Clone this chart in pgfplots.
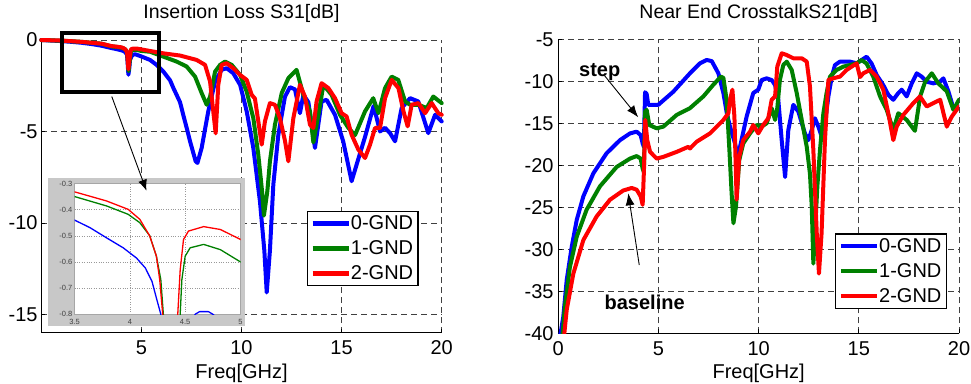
\documentclass[border=0pt]{standalone}
\usepackage{pgfplots}
\pgfplotsset{compat=1.18}
\usepackage{pgfplotstable}
\usepackage{fontspec}
\setmainfont{Liberation Sans}
\usetikzlibrary{arrows.meta}

\definecolor{mblue}{RGB}{0,0,255}
\definecolor{mgreen}{RGB}{0,128,0}
\definecolor{mred}{RGB}{255,0,0}
\definecolor{insetgray}{RGB}{200,200,200}

% ---------- Insertion loss S31 [dB] ----------
\pgfplotstableread{
x y
0 0
0.5 -0.03
1 -0.06
1.5 -0.1
2 -0.15
2.5 -0.22
3 -0.31
3.5 -0.44
3.64 -0.469
3.79 -0.508
3.94 -0.546
4.06 -0.585
4.14 -0.623
4.2 -0.674
4.24 -0.738
4.28 -0.8
4.31 -1.2
4.35 -1.9
4.39 -1.6
4.43 -1.1
4.5 -0.9
4.59 -0.8
4.63 -0.79
4.71 -0.79
4.75 -0.8
5.0 -0.9
5.43 -1.09
5.76 -1.36
6.1 -1.73
6.43 -2.2
6.6 -2.63
6.93 -3.4
7.09 -4.09
7.26 -4.8
7.43 -5.54
7.71 -6.63
7.8 -6.72
8.01 -5.9
8.34 -3.9
8.68 -2.27
9.01 -1.63
9.26 -1.54
9.59 -1.82
9.93 -2.45
10.26 -3.9
10.59 -5.9
10.92 -8.81
11.14 -11.5
11.26 -13.8
11.42 -11.5
11.59 -7.9
11.84 -5.18
12.17 -3.1
12.42 -2.58
12.67 -2.7
12.92 -4.0
13.09 -3.0
13.34 -3.4
13.67 -5.9
14.0 -3.36
14.25 -3.27
14.67 -4.09
15.08 -5.54
15.5 -7.72
15.75 -6.81
16.17 -5.3
16.6 -3.6
16.92 -5.0
17.17 -4.8
17.42 -5.09
17.67 -5.54
18.0 -3.72
18.42 -3.18
18.83 -3.36
19.33 -5.09
19.67 -4.09
20 -4.45
}\ilZero

\pgfplotstableread{
x y
0 0
1 -0.04
2 -0.1
3 -0.2
3.5 -0.35
3.79 -0.386
3.985 -0.418
4.09 -0.45
4.18 -0.5
4.24 -0.578
4.28 -0.668
4.303 -0.8
4.33 -1.3
4.36 -1.7
4.4 -1.3
4.455 -0.8
4.47 -0.668
4.5 -0.578
4.545 -0.546
4.667 -0.533
4.818 -0.553
5.0 -0.6
5.43 -0.64
6.1 -0.91
6.76 -1.18
7.26 -1.45
7.68 -2.0
8.01 -2.9
8.26 -3.54
8.43 -3.1
8.68 -1.73
8.93 -1.36
9.18 -1.18
9.51 -1.36
9.93 -1.91
10.26 -2.82
10.59 -4.27
10.84 -6.27
11.01 -8.08
11.12 -9.6
11.29 -8.27
11.42 -6.63
11.67 -4.63
12.01 -2.9
12.34 -2.09
12.75 -1.63
13.09 -3.0
13.42 -3.9
13.59 -5.6
13.84 -4.09
14.09 -2.45
14.5 -3.0
14.92 -4.09
15.34 -4.81
15.67 -5.2
16.17 -3.9
16.58 -3.18
16.84 -4.0
17.17 -2.63
17.5 -2.0
17.83 -2.18
18.17 -3.36
18.42 -3.54
18.84 -3.54
19.25 -3.72
19.58 -3.09
20 -3.45
}\ilOne

\pgfplotstableread{
x y
0 0
1 -0.03
2 -0.1
3 -0.2
3.5 -0.332
3.79 -0.367
3.985 -0.399
4.09 -0.437
4.18 -0.501
4.24 -0.578
4.27 -0.668
4.297 -0.8
4.32 -1.2
4.35 -1.6
4.39 -1.2
4.433 -0.8
4.455 -0.63
4.485 -0.514
4.53 -0.482
4.667 -0.465
4.818 -0.476
5.0 -0.514
5.43 -0.6
6.1 -0.73
6.93 -0.85
7.76 -1.09
8.18 -1.36
8.43 -2.27
8.59 -3.9
8.71 -5.1
8.84 -2.45
9.01 -1.36
9.26 -1.27
9.59 -1.54
9.93 -1.91
10.26 -2.18
10.51 -3.0
10.67 -3.2
10.84 -4.45
11.01 -5.72
11.17 -4.45
11.42 -3.45
11.67 -3.54
11.92 -4.27
12.17 -5.5
12.34 -6.63
12.59 -4.27
12.92 -2.45
13.17 -3.09
13.42 -4.63
13.59 -4.81
13.75 -3.36
14.0 -2.36
14.34 -2.63
14.67 -3.18
15.0 -4.0
15.25 -4.18
15.5 -5.18
15.84 -6.0
16.17 -6.45
16.42 -5.72
16.67 -4.81
16.92 -4.81
17.17 -3.18
17.5 -2.18
17.84 -2.63
18.09 -3.9
18.3 -4.72
18.5 -3.54
18.84 -3.45
19.17 -4.0
19.5 -3.45
19.83 -4.0
20 -4.09
}\ilTwo

% ---------- Near end crosstalk S21 [dB] ----------
\pgfplotstableread{
x y
0.08 -40.5
0.25 -38.0
0.42 -33.65
0.67 -29.7
0.92 -26.5
1.25 -23.7
1.75 -20.95
2.41 -18.57
3.08 -17.0
3.58 -16.2
3.91 -16.0
4.11 -16.4
4.21 -17.4
4.27 -17.8
4.33 -11.3
4.41 -11.5
4.49 -12.8
4.99 -12.8
5.74 -11.24
6.57 -9.05
7.07 -7.86
7.41 -7.46
7.66 -7.6
7.99 -9.05
8.24 -11.4
8.41 -13.8
8.57 -15.4
8.82 -17.4
8.97 -19.0
9.07 -17.8
9.4 -14.2
9.73 -11.4
9.98 -11.0
10.15 -9.85
10.4 -9.65
10.65 -9.85
10.82 -10.45
10.98 -12.2
11.15 -17.0
11.32 -21.4
11.48 -15.8
11.73 -12.8
11.98 -13.6
12.31 -16.2
12.48 -17.0
12.65 -15.8
12.81 -14.4
12.98 -15.4
13.15 -16.6
13.31 -15.0
13.48 -11.8
13.65 -9.45
13.81 -8.06
14.06 -7.66
14.56 -7.66
14.9 -7.86
15.14 -7.46
15.39 -7.07
15.64 -7.9
15.89 -9.25
16.22 -10.45
16.47 -11.6
16.72 -12.2
16.97 -11.4
17.14 -11.0
17.39 -11.8
17.64 -10.25
17.89 -9.05
18.14 -9.45
18.39 -10.05
18.72 -10.25
19.05 -10.05
19.22 -9.65
19.47 -11.2
19.72 -13.2
20 -13.0
}\nxZero

\pgfplotstableread{
x y
0.2 -40.5
0.33 -36.8
0.58 -32.1
0.92 -28.5
1.41 -25.3
2.08 -22.5
2.91 -20.2
3.58 -19.2
3.91 -18.9
4.11 -19.2
4.21 -20.4
4.27 -20.8
4.33 -13.6
4.41 -13.4
4.54 -15.2
4.91 -15.6
5.24 -15.4
5.91 -14.0
6.57 -13.2
7.24 -11.8
7.74 -10.4
8.12 -9.44
8.24 -9.6
8.4 -12.2
8.54 -18.2
8.65 -23.3
8.74 -26.9
8.87 -24.9
9.03 -19.4
9.23 -17.4
9.57 -16.2
9.9 -15.2
10.15 -15.4
10.4 -15.0
10.65 -13.2
10.82 -14.6
10.93 -13.2
11.06 -9.84
11.23 -8.06
11.4 -7.66
11.65 -8.65
11.9 -11.4
12.15 -14.6
12.4 -17.8
12.56 -21.0
12.65 -24.9
12.73 -31.7
12.81 -28.1
12.93 -22.5
13.06 -18.2
13.23 -13.8
13.39 -11.4
13.56 -9.44
13.89 -8.65
14.23 -8.25
14.56 -8.06
14.89 -7.86
15.14 -7.46
15.39 -7.9
15.72 -9.44
16.06 -11.8
16.39 -13.4
16.72 -15.8
16.97 -13.8
17.39 -14.6
17.8 -15.9
18.06 -11.8
18.31 -10.05
18.64 -9.05
18.97 -10.25
19.39 -11.2
19.72 -13.4
20 -12.2
}\nxOne

\pgfplotstableread{
x y
0.28 -40.5
0.42 -37.2
0.75 -32.9
1.25 -28.9
1.91 -26.1
2.58 -24.1
3.24 -23.0
3.66 -22.7
3.91 -22.9
4.11 -23.7
4.21 -24.7
4.28 -20.2
4.34 -14.6
4.44 -17.0
4.58 -18.4
4.91 -19.2
5.24 -19.0
5.91 -18.4
6.49 -17.8
6.57 -18.0
6.9 -17.2
7.57 -16.2
8.24 -14.6
8.49 -13.8
8.57 -12.2
8.69 -11.0
8.79 -14.2
8.9 -24.1
9.03 -19.0
9.23 -17.0
9.57 -16.0
9.73 -15.2
9.98 -16.2
10.23 -15.2
10.48 -14.4
10.65 -12.2
10.82 -11.8
10.93 -8.25
11.15 -6.67
11.4 -6.87
11.73 -7.26
12.15 -7.26
12.4 -7.66
12.56 -10.6
12.73 -18.2
12.9 -28.1
13.01 -32.9
13.14 -28.1
13.31 -17.0
13.48 -9.84
13.73 -9.64
14.06 -9.44
14.39 -8.65
14.89 -7.86
15.06 -9.5
15.22 -9.05
15.56 -8.65
15.89 -9.44
16.22 -11.0
16.47 -13.8
16.72 -17.0
16.89 -15.4
17.22 -14.0
17.72 -12.6
18.05 -11.8
18.39 -13.0
18.72 -12.6
19.06 -12.2
19.39 -15.4
19.64 -14.2
20 -13.0
}\nxTwo

\newcommand\bigfont{\fontsize{20}{24}\selectfont}

\pgfplotsset{
  matlab/.style={
    scale only axis,
    xmin=0, xmax=20,
    axis x line*=bottom, axis y line*=left,
    axis line style={-, line width=0.9pt, black},
    grid=major,
    major grid style={dash pattern=on 6pt off 4pt, line width=0.8pt, black!75},
    tick align=inside, major tick length=4pt,
    tick style={black, line width=0.8pt},
    ticklabel style={font=\bigfont},
    xticklabel style={anchor=base, inner sep=0pt, yshift=-22pt},
    yticklabel style={anchor=east, inner sep=0pt},
    title style={font=\fontsize{19.5}{24}\selectfont, anchor=base, at={(0.5,1)}},
    xlabel style={font=\bigfont, anchor=base, at={(axis description cs:0.5,0)}, yshift=-45.6pt},
    every axis plot/.append style={line width=4pt, line join=round, line cap=round},
    legend cell align=left,
    legend style={draw=black, line width=1.3pt, font=\bigfont,
      inner xsep=3pt, inner ysep=2.5pt, row sep=5.5pt, anchor=north west,
      /tikz/every odd column/.append style={column sep=-2pt}},
    legend image code/.code={\draw[##1, line width=4.5pt, line cap=butt] (0pt,0pt) -- (36pt,0pt);},
  },
}

\begin{document}
\begin{tikzpicture}
\path[use as bounding box] (0,0) rectangle (971pt,383pt);

% ---- left panel ----
\begin{axis}[matlab,
  at={(41.3pt,50.3pt)}, anchor=south west,
  width=400.4pt, height=292.7pt,
  ymin=-16, ymax=0,
  xtick={5,10,15,20}, xticklabels={5,10,15,20},
  ytick={-15,-10,-5,0}, yticklabels={-15,-10,-5,0},
  yticklabel style={xshift=-3.5pt},
  title={Insertion Loss S31[dB]}, title style={yshift=15pt},
  xlabel={Freq[GHz]},
  legend style={at={(0.663,0.417)}},
  clip=false,
]
\addplot[mblue]  table {\ilZero};
\addplot[mgreen] table {\ilOne};
\addplot[mred]   table {\ilTwo};
\legend{0-GND,1-GND,2-GND}
% backdrop of the zoomed view
\fill[insetgray] (axis cs:0.35,-7.54) rectangle (axis cs:10.17,-15.62);
% zoom window
\draw[black, line width=4pt] (axis cs:1.03,0.38) rectangle (axis cs:5.88,-2.85);
\coordinate (zoomfrom) at (axis cs:3.52,-3.09);
\end{axis}

% ---- zoomed view, 3.5 to 5 GHz ----
\begin{axis}[
  at={(74.5pt,68.7pt)}, anchor=south west, scale only axis,
  width=166pt, height=130.8pt,
  xmin=3.5, xmax=5, ymin=-0.8, ymax=-0.3,
  axis background/.style={fill=white},
  axis line style={gray!70, line width=0.6pt},
  xtick={3.5,4,4.5,5}, xticklabels={3.5,4,4.5,5},
  ytick={-0.8,-0.7,-0.6,-0.5,-0.4,-0.3},
  yticklabels={-0.8,-0.7,-0.6,-0.5,-0.4,-0.3},
  major tick length=0pt,
  ticklabel style={font=\fontsize{7.5}{9}\selectfont, text=black!75},
  xticklabel style={anchor=base, inner sep=0pt, yshift=-10.7pt},
  yticklabel style={anchor=east, inner sep=0pt, xshift=-2pt},
  grid=major,
  major grid style={dotted, gray!80, line width=0.5pt},
  every axis plot/.append style={line width=1.3pt, line join=round},
]
\addplot[mblue]  table {\ilZero};
\addplot[mgreen] table {\ilOne};
\addplot[mred]   table {\ilTwo};
\coordinate (zoomto) at (axis cs:4.15,-0.3275);
\end{axis}
\draw[black, line width=0.9pt, -{Latex[length=11pt,width=9pt]}] (zoomfrom) -- (zoomto);

% ---- right panel ----
\begin{axis}[matlab,
  at={(558.3pt,49.7pt)}, anchor=south west,
  width=400.7pt, height=294pt,
  ymin=-40, ymax=-5,
  xtick={0,5,10,15,20}, xticklabels={0,5,10,15,20},
  ytick={-40,-35,-30,-25,-20,-15,-10,-5},
  yticklabels={-40,-35,-30,-25,-20,-15,-10,-5},
  yticklabel style={xshift=-4.5pt},
  title={Near End CrosstalkS21[dB]}, title style={yshift=14.3pt},
  xlabel={Freq[GHz]},
  legend style={at={(0.6906,0.340)}},
]
\addplot[mblue]  table {\nxZero};
\addplot[mgreen] table {\nxOne};
\addplot[mred]   table {\nxTwo};
\legend{0-GND,1-GND,2-GND}
\node[font=\bfseries\bigfont, anchor=base] at (axis cs:2.07,-9.45) {step};
\node[font=\bfseries\bigfont, anchor=base] at (axis cs:4.31,-37.14) {baseline};
\draw[black, line width=0.9pt, -{Latex[length=12pt,width=9pt]}]
  (axis cs:2.3,-9.3) -- (axis cs:3.99,-14.29);
\draw[black, line width=0.9pt, -{Latex[length=12pt,width=9pt]}]
  (axis cs:4.04,-31.87) -- (axis cs:3.49,-23.33);
\end{axis}
\end{tikzpicture}
\end{document}
